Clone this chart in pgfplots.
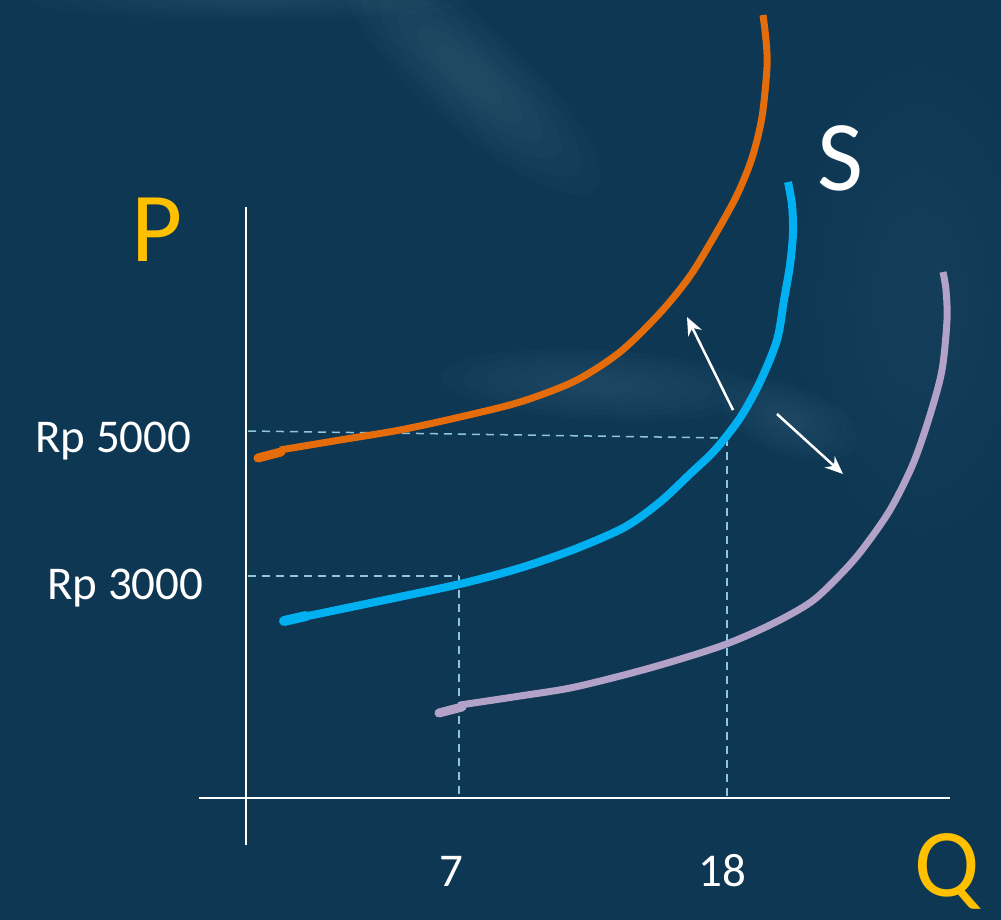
\documentclass[border=0pt]{standalone}
\usepackage{pgfplots}
\pgfplotsset{compat=1.18}
\usepackage{fontspec}
\setmainfont{Carlito}
\usetikzlibrary{arrows.meta}
\definecolor{bg}{HTML}{0E3754}
\definecolor{corange}{HTML}{E46C0A}
\definecolor{cblue}{HTML}{00B0F0}
\definecolor{cpurple}{HTML}{B3A2C7}
\definecolor{cyel}{HTML}{FFC000}
\definecolor{cdash}{HTML}{8FC6DE}
\definecolor{haze}{HTML}{6F9AB0}
\newcommand\blobone[6]{%
    \fill[haze,opacity=#6,rotate around={#5:(axis cs:#1,#2)}] (axis cs:#1,#2) ellipse [x radius=#3pt, y radius=#4pt];}
\newcommand\blob[6]{%
  \blobone{#1}{#2}{#3}{#4}{#5}{#6}%
  \blobone{#1}{#2}{0.85*#3}{0.85*#4}{#5}{#6}%
  \blobone{#1}{#2}{0.7*#3}{0.7*#4}{#5}{#6}%
  \blobone{#1}{#2}{0.55*#3}{0.55*#4}{#5}{#6}%
  \blobone{#1}{#2}{0.4*#3}{0.4*#4}{#5}{#6}%
  \blobone{#1}{#2}{0.25*#3}{0.25*#4}{#5}{#6}}
\begin{document}
\begin{tikzpicture}
\begin{axis}[width=1001pt,height=920pt,scale only axis,
  xmin=0,xmax=1001,ymin=0,ymax=920,y dir=reverse,
  axis line style={draw=none},ticks=none,
  axis background/.style={fill=bg},clip=false]
% background haze
\blob{470}{75}{170}{50}{-42}{0.035}
\blob{250}{0}{220}{20}{0}{0.025}
\blob{920}{300}{120}{230}{0}{0.02}
\blob{600}{385}{160}{35}{-3}{0.03}
\blob{790}{420}{70}{35}{-20}{0.03}
% axes
\addplot[white, line width=2pt] coordinates {(246,207) (246,845)};
\addplot[white, line width=2pt] coordinates {(199,798) (950,798)};
% dashed guides
\addplot[cdash, line width=1.5pt, dash pattern=on 8pt off 6pt] coordinates {(248,431) (727,438)};
\addplot[cdash, line width=1.5pt, dash pattern=on 8pt off 6pt] coordinates {(727,438) (727,798)};
\addplot[cdash, line width=1.5pt, dash pattern=on 8pt off 6pt] coordinates {(248,576) (459,576)};
\addplot[cdash, line width=1.5pt, dash pattern=on 8pt off 6pt] coordinates {(459,576) (459,798)};
% orange curve
\addplot[corange, line width=9pt, line cap=round] coordinates {(258,458) (281,452)};
\addplot[corange, line width=7pt, line cap=butt, smooth, tension=0.5] coordinates {
(280,450) (340,440) (400,430) (460,417) (520,402) (575,381) (620,352) (660,313)
(690,276) (715,235) (737,195) (752,158) (762,117) (767,67) (766,40) (763,15)};
% blue curve
\addplot[cblue, line width=10pt, line cap=round] coordinates {(284,621) (306,616)};
\addplot[cblue, line width=8pt, line cap=butt, smooth, tension=0.5] coordinates {
(303,617) (380,601) (460,584) (520,568) (575,549) (625,527) (660,502) (690,474)
(715,450) (740,418) (760,382) (777,340) (784,300) (790,265) (793,233) (792,205) (788,182)};
% purple curve
\addplot[cpurple, line width=9pt, line cap=round] coordinates {(439,713) (462,707)};
\addplot[cpurple, line width=7pt, line cap=butt, smooth, tension=0.5] coordinates {
(460,705) (520,696) (575,687) (650,668) (721,646) (770,625) (811,602) (840,575)
(862,550) (890,510) (913,464) (930,415) (942,370) (947,320) (946,290) (943,272)};
% arrows
\addplot[white, line width=2.5pt, -{Stealth[length=18pt,width=15pt]}] coordinates {(733,410) (687,317)};
\addplot[white, line width=2.5pt, -{Stealth[length=18pt,width=15pt]}] coordinates {(777,414) (843,474)};
% labels
\node[anchor=base west, inner sep=0, text=white, font=\fontsize{47}{50}\selectfont] at (axis cs:35,452) {Rp 5000};
\node[anchor=base west, inner sep=0, text=white, font=\fontsize{47}{50}\selectfont] at (axis cs:47,599) {Rp 3000};
\node[anchor=base, inner sep=0, text=white, font=\fontsize{47}{50}\selectfont] at (axis cs:451,886) {7};
\node[anchor=base, inner sep=0, text=white, font=\fontsize{47}{50}\selectfont] at (axis cs:722,886) {18};
\node[anchor=base west, inner sep=0, text=cyel, font=\fontsize{99}{100}\selectfont] at (axis cs:131,261) {P};
\node[anchor=base west, inner sep=0, text=cyel, font=\fontsize{97}{100}\selectfont] at (axis cs:914,896) {Q};
\node[anchor=base west, inner sep=0, text=white, font=\fontsize{100}{100}\selectfont] at (axis cs:817,191) {S};
\end{axis}
\pgfresetboundingbox
\path[use as bounding box] (current axis.south west) rectangle (current axis.north east);
\end{tikzpicture}
\end{document}
